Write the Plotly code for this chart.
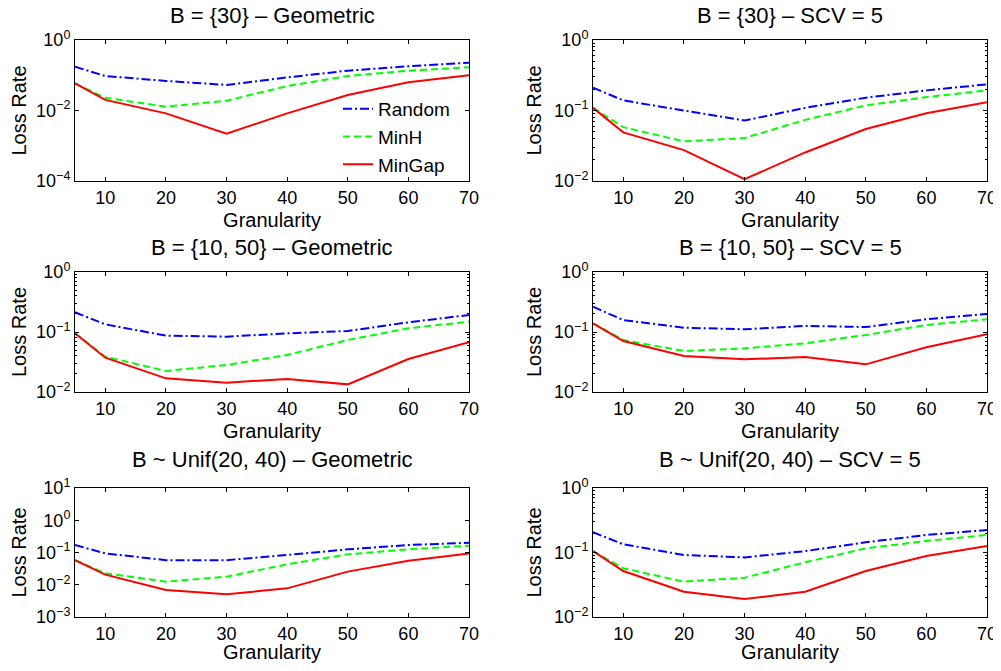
import plotly.graph_objects as go

granularity = [5, 10, 20, 30, 40, 50, 60, 70]
x_ticks = [10, 20, 30, 40, 50, 60, 70]
series_names = ["Random", "MinH", "MinGap"]

titles = [
    "B = {30} – Geometric",
    "B = {30} – SCV = 5",
    "B = {10, 50} – Geometric",
    "B = {10, 50} – SCV = 5",
    "B ~ Unif(20, 40) – Geometric",
    "B ~ Unif(20, 40) – SCV = 5",
]

geo30_random = [0.175, 0.095, 0.069, 0.053, 0.087, 0.135, 0.18, 0.227]
geo30_minh = [0.059, 0.023, 0.0128, 0.019, 0.0495, 0.095, 0.135, 0.168]
geo30_mingap = [0.059, 0.020, 0.0083, 0.0022, 0.0083, 0.0275, 0.063, 0.10]

scv30_random = [0.211, 0.139, 0.100, 0.072, 0.109, 0.152, 0.193, 0.235]
scv30_minh = [0.109, 0.058, 0.0365, 0.0407, 0.0736, 0.118, 0.155, 0.193]
scv30_mingap = [0.109, 0.049, 0.0274, 0.0106, 0.0254, 0.0547, 0.0916, 0.131]

geo1050_random = [0.213, 0.134, 0.087, 0.0836, 0.095, 0.104, 0.145, 0.192]
geo1050_minh = [0.095, 0.0388, 0.0224, 0.0282, 0.0414, 0.0736, 0.115, 0.149]
geo1050_mingap = [0.095, 0.0373, 0.0169, 0.0143, 0.0165, 0.0134, 0.0355, 0.0673]

scv1050_random = [0.264, 0.158, 0.118, 0.111, 0.126, 0.121, 0.163, 0.200]
scv1050_minh = [0.139, 0.0736, 0.0482, 0.0534, 0.0648, 0.089, 0.131, 0.163]
scv1050_mingap = [0.139, 0.0708, 0.0398, 0.035, 0.0383, 0.0289, 0.0555, 0.0914]

geounif_random = [0.171, 0.094, 0.058, 0.058, 0.0836, 0.125, 0.171, 0.200]
geounif_minh = [0.058, 0.0226, 0.0125, 0.0178, 0.043, 0.0877, 0.125, 0.163]
geounif_mingap = [0.058, 0.0206, 0.00687, 0.00505, 0.00774, 0.0255, 0.0558, 0.094]

scvunif_random = [0.206, 0.134, 0.0915, 0.084, 0.105, 0.144, 0.187, 0.223]
scvunif_minh = [0.105, 0.0568, 0.0353, 0.0407, 0.0704, 0.116, 0.151, 0.187]
scvunif_mingap = [0.105, 0.0516, 0.0247, 0.019, 0.0247, 0.0516, 0.0883, 0.126]

panels = [
    (geo30_random, geo30_minh, geo30_mingap),
    (scv30_random, scv30_minh, scv30_mingap),
    (geo1050_random, geo1050_minh, geo1050_mingap),
    (scv1050_random, scv1050_minh, scv1050_mingap),
    (geounif_random, geounif_minh, geounif_mingap),
    (scvunif_random, scvunif_minh, scvunif_mingap),
]

# y-axis decade ranges (exponents) per panel
y_ranges = [(-4, 0), (-2, 0), (-2, 0), (-2, 0), (-3, 1), (-2, 0)]
y_dticks = [2, 1, 1, 1, 1, 1]
y_minor = [False, True, True, True, False, True]

# page body adds an 8px margin around the figure
OFF = 8
W, H = 1001 - 2 * OFF, 671 - 2 * OFF


def px_x(p):
    return (p - OFF) / W


def px_y(p):
    return 1 - (p - OFF) / H


col_px = [(75, 469), (593, 987)]
row_px = [(40, 181), (272, 392), (488, 617)]
title_px = [16, 247, 460]

colors = ["#0000ff", "#00ff00", "#ff0000"]
dashes = ["9px,3px,2px,3px", "7px,4px", "solid"]
FONT = "Liberation Sans, Arial, Helvetica, sans-serif"

fig = go.Figure()
layout = dict(
    width=W, height=H,
    margin=dict(l=0, r=0, t=0, b=0, autoexpand=False),
    paper_bgcolor="white", plot_bgcolor="white",
    font=dict(family=FONT, color="black", size=18),
    showlegend=True,
    legend=dict(
        x=px_x(338), y=px_y(90), xanchor="left", yanchor="top",
        bgcolor="rgba(0,0,0,0)", borderwidth=0,
        font=dict(size=19, family=FONT), tracegroupgap=0, itemwidth=30,
    ),
)
annotations = []


def sup(e):
    s = str(e).replace("-", "\u2212")
    return "10<sup>" + s + "</sup>"


for i, data in enumerate(panels):
    r, c = divmod(i, 2)
    xa = "x" if i == 0 else f"x{i+1}"
    ya = "y" if i == 0 else f"y{i+1}"
    for k, (name, vals) in enumerate(zip(series_names, data)):
        fig.add_trace(go.Scatter(
            x=granularity, y=vals, mode="lines", name=name,
            line=dict(color=colors[k], width=2, dash=dashes[k]),
            xaxis=xa, yaxis=ya, showlegend=(i == 0),
        ))
    x0, x1 = col_px[c]
    y0, y1 = row_px[r]
    lo, hi = y_ranges[i]
    tickv = [10 ** e for e in range(lo, hi + 1, y_dticks[i])]
    tickt = [sup(e) for e in range(lo, hi + 1, y_dticks[i])]
    xkey = "xaxis" if i == 0 else f"xaxis{i+1}"
    ykey = "yaxis" if i == 0 else f"yaxis{i+1}"
    layout[xkey] = dict(
        domain=[px_x(x0), px_x(x1)], anchor=ya, range=[5, 70],
        tickvals=x_ticks, ticks="inside", ticklen=4, tickcolor="black",
        showline=True, linecolor="black", linewidth=1, mirror="ticks",
        showgrid=False, zeroline=False, automargin=False,
        ticklabeloverflow="allow",
        tickfont=dict(size=18),
        title=dict(text="Granularity", font=dict(size=20), standoff=6),
    )
    yax = dict(
        domain=[px_y(y1), px_y(y0)], anchor=xa, type="log",
        range=[lo, hi], tickvals=tickv, ticktext=tickt,
        ticks="inside", ticklen=4, tickcolor="black",
        showline=True, linecolor="black", linewidth=1, mirror="ticks",
        showgrid=False, zeroline=False, automargin=False,
        ticklabeloverflow="allow",
        tickfont=dict(size=18),
        title=dict(text="Loss Rate", font=dict(size=20), standoff=7),
    )
    if y_minor[i]:
        mv = [m * 10 ** e for e in range(lo, hi) for m in range(2, 10)]
        yax["minor"] = dict(tickvals=mv, ticks="inside", ticklen=2,
                            tickcolor="black", showgrid=False)
    layout[ykey] = yax
    annotations.append(dict(
        text=titles[i], x=px_x((x0 + x1) / 2), y=px_y(title_px[r]),
        xref="paper", yref="paper", xanchor="center", yanchor="middle",
        showarrow=False, font=dict(size=22, family=FONT),
    ))

layout["annotations"] = annotations
fig.update_layout(**layout)
fig.write_html("out.html")
